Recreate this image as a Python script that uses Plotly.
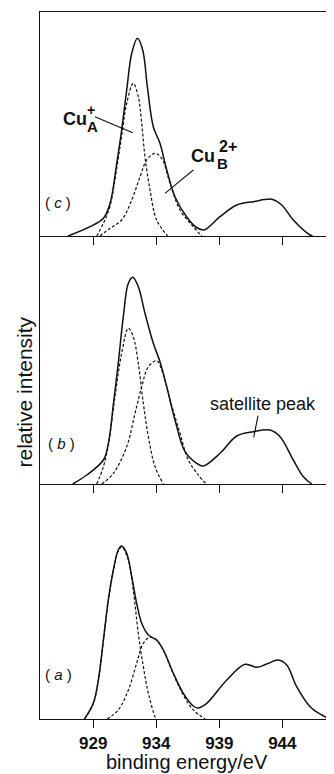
import plotly.graph_objects as go

# ---------------- data (binding energy / eV, relative intensity) ----------------
# panel (a)
a_tot_x = [928.3, 929.0, 929.4, 929.8, 930.19, 930.59, 930.98, 931.25, 931.65, 932.05, 932.44, 932.84,
           933.37, 934.03, 934.56, 935.35, 936.14, 936.94, 937.3, 938.0, 939.59, 941.04, 941.97, 942.76,
           943.68, 944.35, 945.14, 946.2, 947.13, 947.8]
a_tot_y = [0, 15.7, 39, 79, 119, 149, 169, 173, 165.7, 142.3, 115.7, 95.7,
           84, 79, 69, 45.7, 25.7, 13, 11, 15.7, 39, 54.7, 51.7, 55,
           59, 54, 32.3, 12.3, 4, 0]
a_A_x = [928.3, 929.0, 929.4, 929.8, 930.19, 930.59, 930.98, 931.25, 931.78, 932.17, 932.57, 932.97, 933.37, 933.9, 934.0]
a_A_y = [0, 15.5, 38.5, 78, 118, 148, 168, 172, 159, 129, 85.7, 52.3, 25.7, 2, 0]
a_B_x = [930.1, 930.98, 931.78, 932.44, 932.97, 933.5, 934.03, 934.56, 935.35, 936.14, 936.94, 937.87]
a_B_y = [0, 9, 29, 55.7, 75.7, 81.7, 78.5, 68.5, 45, 24, 9, 0]

# panel (b)
b_tot_x = [927.37, 928.48, 929.8, 930.2, 930.6, 930.98, 931.38, 931.78, 932.13, 932.57, 933.1, 933.76,
           934.29, 934.83, 935.48, 936.28, 937.2, 937.73, 939.06, 940.38, 941.7, 943.02, 943.82, 944.87,
           945.67, 946.33]
b_tot_y = [0, 9, 24, 40.7, 80.7, 120.7, 167.3, 200.7, 206.7, 197.3, 170.7, 140.7,
           122.3, 97.3, 64, 32.3, 20.7, 18, 30.7, 48, 52.3, 54, 47.3, 24,
           7.3, 0]
b_A_x = [929.27, 929.8, 930.2, 930.72, 931.25, 931.78, 932.17, 932.57, 932.97, 933.37, 933.9, 934.56]
b_A_y = [0, 17.3, 40, 87.3, 130.7, 155.7, 147.3, 120.7, 80.7, 47.3, 17.3, 0]
b_B_x = [929.67, 930.6, 931.65, 932.31, 932.84, 933.37, 934.03, 934.43, 935.09, 935.88, 936.54, 937.33, 937.95]
b_B_y = [0, 10.7, 37.3, 70.7, 97.3, 117.3, 123.3, 114, 84, 50.7, 24, 9, 0]

# panel (c)
c_tot_x = [927.0, 928.74, 929.8, 930.33, 930.86, 931.25, 931.65, 932.05, 932.5, 932.92, 933.29, 933.76,
           934.29, 934.83, 935.48, 936.4, 937.2, 937.8, 939.05, 940.38, 941.7, 943.16, 943.95, 944.87,
           946.2, 946.4]
c_tot_y = [0, 9.3, 17.7, 32.7, 72.7, 106, 146, 182.7, 197.7, 186, 149.3, 109.3,
           92.7, 66, 39.3, 19.3, 8.5, 6, 19.3, 31, 34.3, 36.7, 31, 16,
           1, 0]
c_A_x = [929.27, 929.8, 930.33, 930.86, 931.25, 931.65, 932.17, 932.57, 932.84, 933.1, 933.5, 934.03, 934.9]
c_A_y = [0, 12.7, 30, 68, 100, 132.7, 152.7, 139.3, 112.7, 79.3, 46, 16, 0]
c_B_x = [929.53, 930.33, 931.25, 932.05, 932.71, 933.24, 933.9, 934.43, 935.09, 935.88, 936.94, 937.6]
c_B_y = [0, 7.7, 16, 36, 59.3, 76, 82.7, 77.7, 52.7, 26, 9.3, 0]

tick_vals = [929, 934, 939, 944]
tick_text = ["929", "934", "939", "944"]
x_range = [924.77, 948.1]

# ---------------- figure ----------------
INK = "#111111"
FONT = "Liberation Sans, Arial, Helvetica, sans-serif"

fig = go.Figure()

panels = [
    ("x", "y", a_tot_x, a_tot_y, a_A_x, a_A_y, a_B_x, a_B_y),
    ("x2", "y2", b_tot_x, b_tot_y, b_A_x, b_A_y, b_B_x, b_B_y),
    ("x3", "y3", c_tot_x, c_tot_y, c_A_x, c_A_y, c_B_x, c_B_y),
]
for xa, ya, tx, ty, ax_, ay_, bx_, by_ in panels:
    fig.add_trace(go.Scatter(x=ax_, y=ay_, xaxis=xa, yaxis=ya, mode="lines",
                             line=dict(color=INK, width=1.2, dash="3px,2px", shape="spline", smoothing=1),
                             hoverinfo="skip", showlegend=False))
    fig.add_trace(go.Scatter(x=bx_, y=by_, xaxis=xa, yaxis=ya, mode="lines",
                             line=dict(color=INK, width=1.2, dash="3px,2px", shape="spline", smoothing=1),
                             hoverinfo="skip", showlegend=False))
    fig.add_trace(go.Scatter(x=tx, y=ty, xaxis=xa, yaxis=ya, mode="lines",
                             line=dict(color=INK, width=1.5, shape="spline", smoothing=1),
                             hoverinfo="skip", showlegend=False))

plot_h = 707.0
doms = {"y": [0, 235 / plot_h], "y2": [235 / plot_h, 483 / plot_h], "y3": [483 / plot_h, 1]}
heights = {"y": 235, "y2": 248, "y3": 224}

common_x = dict(range=x_range, showline=True, linecolor=INK, linewidth=1.3,
                ticks="outside", ticklen=8, tickwidth=1.5, tickcolor=INK,
                tickvals=tick_vals, ticktext=tick_text, showgrid=False, zeroline=False,
                fixedrange=True)

# the page body adds an 8 px margin, so the figure is 8 px smaller and the margins 8 px less
fig.update_layout(
    width=326, height=766, autosize=False,
    margin=dict(l=32, r=0, t=4, b=55),
    paper_bgcolor="white", plot_bgcolor="white",
    font=dict(family=FONT, color=INK),
    xaxis=dict(**common_x, anchor="y", showticklabels=True,
               tickfont=dict(size=17, family=FONT, color=INK, weight="bold")),
    xaxis2=dict(**common_x, anchor="y2", showticklabels=False, matches="x"),
    xaxis3=dict(**common_x, anchor="y3", showticklabels=False, matches="x", mirror=True),
)
for ya, d in doms.items():
    key = "yaxis" if ya == "y" else "yaxis" + ya[1:]
    fig.layout[key] = dict(domain=d, range=[0, heights[ya]], showline=True, linecolor=INK, linewidth=1.3,
                           showticklabels=False, ticks="", showgrid=False, zeroline=False,
                           anchor="x" if ya == "y" else "x" + ya[1:], fixedrange=True)

ann = []
# axis titles
ann.append(dict(text="binding energy/eV", xref="paper", yref="paper", x=0.5, y=-43 / plot_h,
                xanchor="center", yanchor="middle", showarrow=False, font=dict(size=20, family=FONT)))
ann.append(dict(text="relative intensity", xref="paper", yref="paper", x=-16.5 / 294, y=(719 - 392) / plot_h,
                xanchor="center", yanchor="middle", textangle=-90, showarrow=False,
                font=dict(size=21, family=FONT)))
# panel letters
for txt, xa, ya, xv, yv in [("( <i>a</i> )", "x", "y", 926.2, 45),
                            ("( <i>b</i> )", "x2", "y2", 926.44, 41),
                            ("( <i>c</i> )", "x3", "y3", 926.2, 34)]:
    ann.append(dict(text=txt, xref=xa, yref=ya, x=xv, y=yv, showarrow=False,
                    xanchor="center", yanchor="middle", font=dict(size=15, family=FONT)))
# satellite peak
ann.append(dict(text="satellite peak", xref="x2", yref="y2", x=942.47, y=80, showarrow=False,
                xanchor="center", yanchor="middle", font=dict(size=18, family=FONT)))
# Cu labels (panel c)
bold = dict(family=FONT, weight="bold", color=INK)
ann += [
    dict(text="Cu", xref="x3", yref="y3", x=927.52, y=116.7, showarrow=False, xanchor="center",
         yanchor="middle", font=dict(size=18, **bold)),
    dict(text="+", xref="x3", yref="y3", x=928.82, y=126, showarrow=False, xanchor="center",
         yanchor="middle", font=dict(size=14, **bold)),
    dict(text="A", xref="x3", yref="y3", x=928.9, y=110, showarrow=False, xanchor="center",
         yanchor="middle", font=dict(size=15, **bold)),
    dict(text="Cu", xref="x3", yref="y3", x=937.71, y=80.5, showarrow=False, xanchor="center",
         yanchor="middle", font=dict(size=18, **bold)),
    dict(text="2+", xref="x3", yref="y3", x=939.65, y=90, showarrow=False, xanchor="center",
         yanchor="middle", font=dict(size=16, **bold)),
    dict(text="B", xref="x3", yref="y3", x=939.25, y=73, showarrow=False, xanchor="center",
         yanchor="middle", font=dict(size=15, **bold)),
]
fig.update_layout(annotations=ann)

# pointer lines
shapes = [
    dict(type="line", xref="x3", yref="y3", x0=929.13, y0=119.3, x1=932.13, y1=103.3,
         line=dict(color=INK, width=1.1)),
    dict(type="line", xref="x3", yref="y3", x0=936.94, y0=66, x1=934.69, y1=42.7,
         line=dict(color=INK, width=1.1)),
    dict(type="line", xref="x2", yref="y2", x0=942.07, y0=68.3, x1=941.73, y1=46.7,
         line=dict(color=INK, width=1.1)),
]
fig.update_layout(shapes=shapes)

fig.write_html("out.html", config={"displayModeBar": False, "staticPlot": True})
